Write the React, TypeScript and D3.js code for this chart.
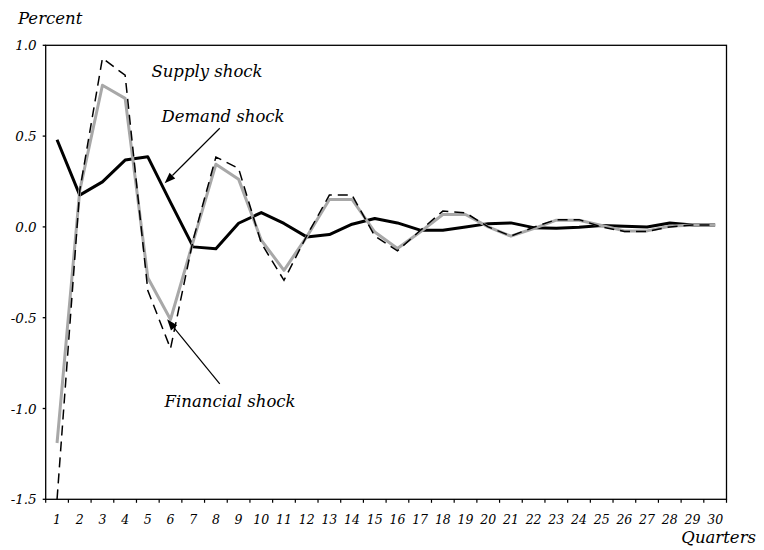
import React from "react";
import * as d3 from "d3";

const quarters = d3.range(1, 31);
const demand = [0.48, 0.175, 0.248, 0.368, 0.386, 0.135, -0.11, -0.12, 0.02, 0.079, 0.019, -0.055, -0.042, 0.015, 0.046, 0.022, -0.018, -0.018, 0.0, 0.018, 0.022, -0.004, -0.008, -0.002, 0.008, 0.004, 0.0, 0.022, 0.011, 0.011];
const financial = [-1.19, 0.2, 0.78, 0.708, -0.28, -0.51, -0.08, 0.345, 0.263, -0.073, -0.239, -0.055, 0.151, 0.151, -0.028, -0.119, -0.028, 0.068, 0.068, 0.0, -0.051, -0.009, 0.037, 0.037, 0.008, -0.022, -0.022, 0.004, 0.011, 0.011];
const supply = [-1.5, 0.2, 0.929, 0.835, -0.35, -0.67, -0.07, 0.385, 0.322, -0.09, -0.294, -0.05, 0.175, 0.175, -0.05, -0.132, -0.02, 0.087, 0.078, 0.0, -0.05, -0.002, 0.04, 0.04, 0.0, -0.025, -0.025, 0.0, 0.01, 0.01];
const yTicks = [1.0, 0.5, 0.0, -0.5, -1.0, -1.5];

const W = 764, H = 550;
const L = 45.7, R = 726.5, T = 45.3, B = 499.3;
const FONT = "'DejaVu Serif', serif";

export default function App() {
  const x = d3.scaleLinear().domain([0.5, 30.5]).range([L, R]);
  const y = d3.scaleLinear().domain([-1.5, 1.0]).range([B, T]);
  const line = d3.line<number>().x((_, i) => x(quarters[i])).y((d) => y(d));

  const arrow = (q0: number, v0: number, q1: number, v1: number) => {
    const x0 = x(q0), y0 = y(v0), x1 = x(q1), y1 = y(v1);
    const ang = Math.atan2(y1 - y0, x1 - x0);
    const len = 11, half = 4;
    const bx = x1 - len * Math.cos(ang), by = y1 - len * Math.sin(ang);
    const p1 = [bx + half * Math.sin(ang), by - half * Math.cos(ang)];
    const p2 = [bx - half * Math.sin(ang), by + half * Math.cos(ang)];
    return (
      <g>
        <line x1={x0} y1={y0} x2={bx} y2={by} stroke="#000" strokeWidth={1.2} />
        <polygon points={`${x1},${y1} ${p1[0]},${p1[1]} ${p2[0]},${p2[1]}`} fill="#000" />
      </g>
    );
  };

  return (
    <svg width={W} height={H} style={{ position: "absolute", left: 0, top: 0 }} fontFamily={FONT}>
      <rect x={0} y={0} width={W} height={H} fill="#fff" />
      {/* frame */}
      <rect x={L} y={T} width={R - L} height={B - T} fill="none" stroke="#000" strokeWidth={1.3} />
      {/* y ticks */}
      {yTicks.map((t) => (
        <g key={t}>
          <line x1={L - 3} x2={L} y1={y(t)} y2={y(t)} stroke="#000" strokeWidth={1.3} />
          <text x={L - 9} y={y(t) + 5} textAnchor="end" fontSize={13.5} fontStyle="italic">
            {t.toFixed(1)}
          </text>
        </g>
      ))}
      {/* x ticks */}
      {d3.range(0, 31).map((k) => (
        <line key={k} x1={x(k + 0.5)} x2={x(k + 0.5)} y1={B} y2={B + 3.5} stroke="#000" strokeWidth={1.2} />
      ))}
      {quarters.map((q) => (
        <text key={q} x={x(q)} y={524} textAnchor="middle" fontSize={12.5} fontStyle="italic">
          {q}
        </text>
      ))}
      <text x={18} y={24} fontSize={16.5} fontStyle="italic">Percent</text>
      <text x={756} y={543} textAnchor="end" fontSize={16.5} fontStyle="italic">Quarters</text>

      {/* series */}
      <path d={line(demand) || ""} fill="none" stroke="#000" strokeWidth={3} strokeLinejoin="round" />
      <path d={line(financial) || ""} fill="none" stroke="#a8a8a8" strokeWidth={3} strokeLinejoin="round" />
      <path d={line(supply) || ""} fill="none" stroke="#000" strokeWidth={1.5} strokeDasharray="10,6" />

      {/* annotations */}
      <text x={x(5.16)} y={y(0.826)} fontSize={16.5} fontStyle="italic">Supply shock</text>
      <text x={x(5.6)} y={y(0.579)} fontSize={16.5} fontStyle="italic">Demand shock</text>
      <text x={x(5.74)} y={y(-0.989)} fontSize={16.5} fontStyle="italic">Financial shock</text>
      {arrow(8.17, 0.543, 5.74, 0.24)}
      {arrow(8.17, -0.864, 5.85, -0.509)}
    </svg>
  );
}
